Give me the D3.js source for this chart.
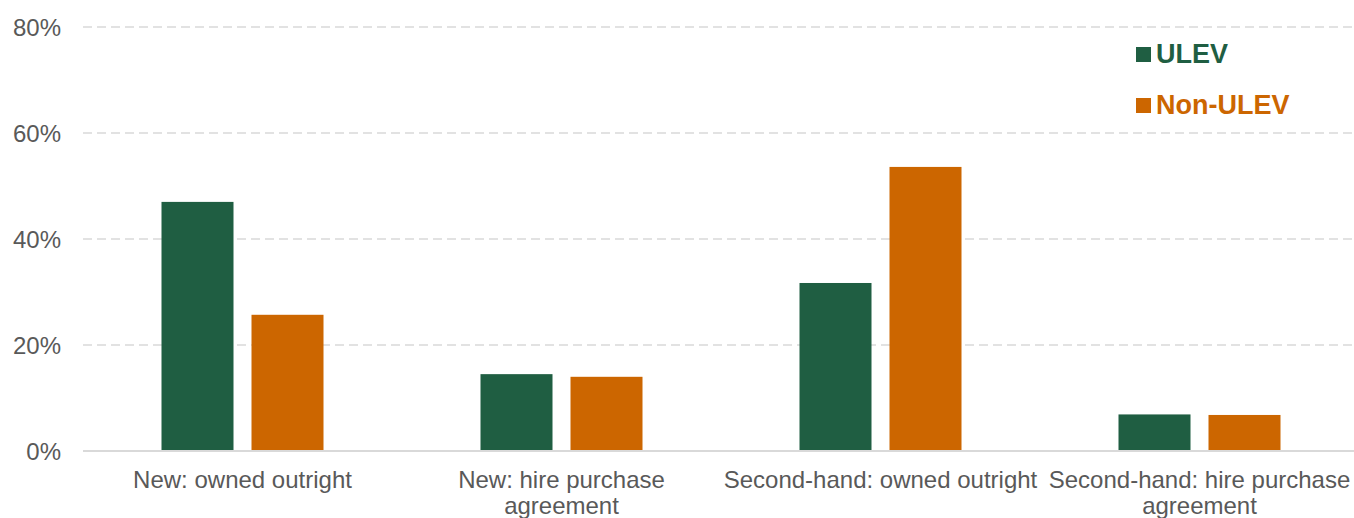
<!DOCTYPE html>
<html>
<head>
<meta charset="utf-8">
<script src="https://cdn.jsdelivr.net/npm/d3@7"></script>
<style>
  html, body { margin: 0; padding: 0; background: #ffffff; }
  svg { display: block; font-family: "Liberation Sans", Arial, sans-serif; }
</style>
</head>
<body>
<svg id="chart" width="1354" height="518"></svg>
<script>
const categories = ["New: owned outright", "New: hire purchase agreement", "Second-hand: owned outright", "Second-hand: hire purchase agreement"];
const seriesNames = ["ULEV", "Non-ULEV"];
const ulevValues = [47.0, 14.5, 31.7, 6.9];
const nonUlevValues = [25.7, 14.0, 53.6, 6.8];
const yTicks = [0, 20, 40, 60, 80];
const colors = ["#1F5E42", "#CC6600"];

(function () {
const svg = d3.select("#chart");
const mLeft = 83, mRight = 1359, mTop = 27, mBottom = 451;

const x = d3.scaleBand().domain(categories).range([mLeft, mRight]).padding(0);
const y = d3.scaleLinear().domain([0, 80]).range([mBottom, mTop]);
const groupW = 162;
const xSub = d3.scaleBand().domain(seriesNames).range([0, groupW]).paddingInner(0.2).paddingOuter(0);

// gridlines
svg.append("g").selectAll("line").data(yTicks.filter(d => d > 0)).join("line")
  .attr("x1", mLeft).attr("x2", mRight)
  .attr("y1", d => y(d)).attr("y2", d => y(d))
  .attr("stroke", "#d9d9d9").attr("stroke-width", 1.5)
  .attr("stroke-dasharray", "9,5");

// y axis labels
const yAxis = d3.axisLeft(y).tickValues(yTicks).tickFormat(d => d + "%").tickSize(0).tickPadding(0);
const yg = svg.append("g").attr("transform", `translate(${61},0)`).call(yAxis);
yg.select(".domain").remove();
yg.selectAll("text").attr("fill", "#595959").style("font-size", "24px")
  .style("font-family", "'Liberation Sans', Arial, sans-serif").attr("dy", "0.36em");

// bars
const data = categories.map((c, i) => ({cat: c, vals: [ulevValues[i], nonUlevValues[i]]}));
const groups = svg.append("g").selectAll("g").data(data).join("g")
  .attr("transform", d => `translate(${x(d.cat) + x.bandwidth() / 2 - groupW / 2},0)`);
groups.selectAll("rect").data(d => d.vals.map((v, j) => ({s: seriesNames[j], v, j}))).join("rect")
  .attr("x", d => xSub(d.s))
  .attr("width", xSub.bandwidth())
  .attr("y", d => y(d.v))
  .attr("height", d => y(0) - y(d.v))
  .attr("fill", d => colors[d.j]);

// baseline
svg.append("line").attr("x1", mLeft).attr("x2", mRight).attr("y1", mBottom).attr("y2", mBottom)
  .attr("stroke", "#d9d9d9").attr("stroke-width", 2);

// x axis labels
const xAxis = d3.axisBottom(x).tickSize(0).tickPadding(0);
const xg = svg.append("g").attr("transform", `translate(0,${mBottom})`).call(xAxis);
xg.select(".domain").remove();
xg.selectAll("text").attr("fill", "#595959").style("font-size", "24px")
  .style("font-family", "'Liberation Sans', Arial, sans-serif")
  .attr("y", 37).attr("dy", 0)
  .each(function(d) {
    const t = d3.select(this);
    const words = d.split(" ");
    const maxW = x.bandwidth();
    t.text(null);
    let line = [];
    let tspan = t.append("tspan").attr("x", 0);
    for (const w of words) {
      line.push(w);
      tspan.text(line.join(" "));
      if (tspan.node().getComputedTextLength() > maxW && line.length > 1) {
        line.pop();
        tspan.text(line.join(" "));
        line = [w];
        tspan = t.append("tspan").attr("x", 0).attr("dy", 26).text(w);
      }
    }
  });

// legend
const legend = svg.append("g");
seriesNames.forEach((s, i) => {
  const ly = 47 + i * 51;
  legend.append("rect").attr("x", 1136).attr("y", ly).attr("width", 15).attr("height", 15).attr("fill", colors[i]);
  legend.append("text").attr("x", 1156).attr("y", ly + 16).text(s)
    .attr("fill", colors[i]).style("font-size", "27px").style("font-weight", "bold");
});
})();
</script>
</body>
</html>
